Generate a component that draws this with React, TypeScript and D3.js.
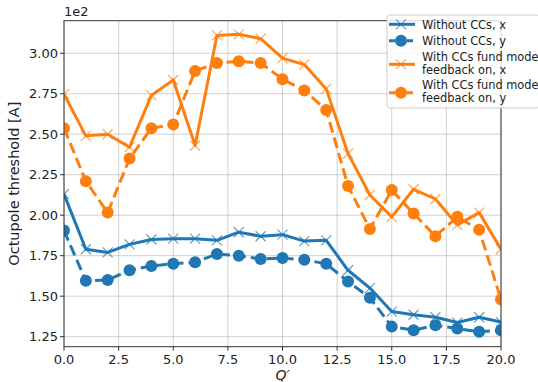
import React from "react";
import * as d3 from "d3";

// Q' values and thresholds (in units of 1e2 A)
const qPrime = d3.range(0, 21);

const noCCx = [2.13, 1.79, 1.77, 1.82, 1.85, 1.855, 1.855, 1.845, 1.895, 1.87, 1.88, 1.84, 1.845, 1.66, 1.55, 1.405, 1.385, 1.37, 1.337, 1.37, 1.34];
const noCCy = [1.905, 1.595, 1.6, 1.66, 1.687, 1.7, 1.71, 1.76, 1.75, 1.73, 1.735, 1.725, 1.7, 1.59, 1.49, 1.312, 1.29, 1.32, 1.3, 1.28, 1.29];
const ccX = [2.747, 2.49, 2.5, 2.42, 2.74, 2.835, 2.43, 3.11, 3.117, 3.09, 2.97, 2.93, 2.78, 2.38, 2.125, 1.99, 2.16, 2.1, 1.94, 2.016, 1.79];
const ccY = [2.537, 2.21, 2.016, 2.35, 2.537, 2.56, 2.89, 2.94, 2.95, 2.94, 2.84, 2.77, 2.65, 2.18, 1.915, 2.155, 2.01, 1.87, 1.99, 1.91, 1.48];

const xTicks = [0, 2.5, 5, 7.5, 10, 12.5, 15, 17.5, 20];
const yTicks = [1.25, 1.5, 1.75, 2.0, 2.25, 2.5, 2.75, 3.0];

const BLUE = "#1f77b4";
const ORANGE = "#ff7f0e";

type Series = { label: string[]; values: number[]; color: string; dashed: boolean; marker: "x" | "o" };

const series: Series[] = [
  { label: ["Without CCs, x"], values: noCCx, color: BLUE, dashed: false, marker: "x" },
  { label: ["Without CCs, y"], values: noCCy, color: BLUE, dashed: true, marker: "o" },
  { label: ["With CCs fund mode", "feedback on, x"], values: ccX, color: ORANGE, dashed: false, marker: "x" },
  { label: ["With CCs fund mode", "feedback on, y"], values: ccY, color: ORANGE, dashed: true, marker: "o" },
];

const W = 538;
const H = 382;
const M = { left: 64, right: 501, top: 20.7, bottom: 346.7 };
const FONT = "DejaVu Sans, sans-serif";

function Marker({ kind, x, y, color }: { kind: "x" | "o"; x: number; y: number; color: string }) {
  if (kind === "o") return <circle cx={x} cy={y} r={6} fill={color} />;
  const s = 5;
  return (
    <path
      d={`M${x - s},${y - s}L${x + s},${y + s}M${x - s},${y + s}L${x + s},${y - s}`}
      stroke={color}
      strokeWidth={1.2}
      strokeOpacity={0.7}
      fill="none"
    />
  );
}

export default function App() {
  const x = d3.scaleLinear().domain([0, 20]).range([M.left, M.right]);
  const y = d3.scaleLinear().domain([1.188, 3.201]).range([M.bottom, M.top]);
  const line = d3
    .line<number>()
    .x((_, i) => x(qPrime[i]))
    .y((d) => y(d));

  // legend rows
  const legendX = 387;
  const rows = [
    { s: series[0], lines: [24.3], marker: 24.3 },
    { s: series[1], lines: [40.7], marker: 40.7 },
    { s: series[2], lines: [56.7, 69.3], marker: 64.3 },
    { s: series[3], lines: [85, 97.7], marker: 92.7 },
  ];

  return (
    <svg
      width={W}
      height={H}
      style={{ position: "absolute", left: 0, top: 0, background: "white" }}
      fontFamily={FONT}
    >
      <defs>
        <clipPath id="plot">
          <rect x={M.left} y={M.top} width={M.right - M.left} height={M.bottom - M.top} />
        </clipPath>
      </defs>

      {/* grid */}
      {xTicks.map((t) => (
        <line key={"gx" + t} x1={x(t)} x2={x(t)} y1={M.top} y2={M.bottom} stroke="#b0b0b0" strokeOpacity={0.6} strokeWidth={1} />
      ))}
      {yTicks.map((t) => (
        <line key={"gy" + t} x1={M.left} x2={M.right} y1={y(t)} y2={y(t)} stroke="#b0b0b0" strokeOpacity={0.6} strokeWidth={1} />
      ))}

      {/* series */}
      <g clipPath="url(#plot)">
        {series.map((s, k) => (
          <g key={k}>
            <path
              d={line(s.values) ?? ""}
              fill="none"
              stroke={s.color}
              strokeWidth={3}
              strokeDasharray={s.dashed ? "11,5" : undefined}
              strokeLinejoin="round"
            />
            {s.values.map((v, i) => (
              <Marker key={i} kind={s.marker} x={x(qPrime[i])} y={y(v)} color={s.color} />
            ))}
          </g>
        ))}
      </g>

      {/* spines */}
      <rect x={M.left} y={M.top} width={M.right - M.left} height={M.bottom - M.top} fill="none" stroke="#333" strokeWidth={1} />

      {/* x ticks */}
      {xTicks.map((t) => (
        <g key={"tx" + t}>
          <line x1={x(t)} x2={x(t)} y1={M.bottom} y2={M.bottom + 4} stroke="#333" />
          <text x={x(t)} y={M.bottom + 17} textAnchor="middle" fontSize={13} fill="#222">
            {t.toFixed(1)}
          </text>
        </g>
      ))}
      {/* y ticks */}
      {yTicks.map((t) => (
        <g key={"ty" + t}>
          <line x1={M.left - 4} x2={M.left} y1={y(t)} y2={y(t)} stroke="#333" />
          <text x={M.left - 6} y={y(t) + 4.5} textAnchor="end" fontSize={13} fill="#222">
            {t.toFixed(2)}
          </text>
        </g>
      ))}

      <text x={M.left} y={16} fontSize={13} fill="#222">1e2</text>
      <text
        transform={`translate(19,${(M.top + M.bottom) / 2}) rotate(-90)`}
        textAnchor="middle"
        fontSize={14.5}
        fill="#222"
      >
        Octupole threshold [A]
      </text>
      <text x={(M.left + M.right) / 2} y={380} textAnchor="middle" fontSize={14} fill="#222" fontStyle="italic">
        Q′
      </text>

      {/* legend */}
      <rect x={legendX} y={15} width={153} height={93} rx={3} fill="white" fillOpacity={0.8} stroke="#ccc" />
      {rows.map((r, k) => (
        <g key={"lg" + k}>
          <line
            x1={389}
            x2={415}
            y1={r.marker}
            y2={r.marker}
            stroke={r.s.color}
            strokeWidth={3}
            strokeDasharray={r.s.dashed ? "6,3" : undefined}
          />
          <Marker kind={r.s.marker} x={401} y={r.marker} color={r.s.color} />
          {r.s.label.map((l, j) => (
            <text key={j} x={422} y={r.lines[j] + 4.2} fontSize={11.4} fill="#222">
              {l}
            </text>
          ))}
        </g>
      ))}
    </svg>
  );
}
